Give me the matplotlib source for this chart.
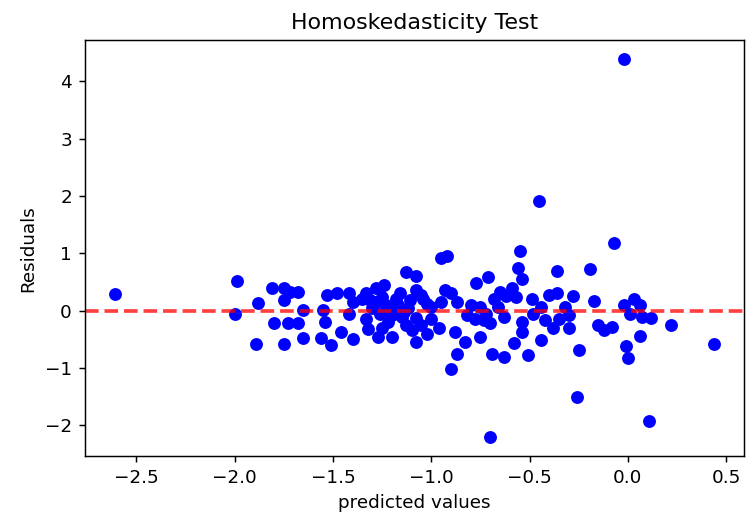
import matplotlib
matplotlib.use("Agg")
import matplotlib.pyplot as plt

title = "Homoskedasticity Test"
xlabel = "predicted values"
ylabel = "Residuals"

predicted = [
    -2.61, -1.99, -2.00, -1.88, -1.89, -1.81, -1.75, -1.75, -1.72, -1.68,
    -1.80, -1.73, -1.68, -1.75, -1.65, -1.65, -1.56, -1.55, -1.54, -1.53,
    -1.48, -1.42, -1.40, -1.42, -1.51, -1.46, -1.40, -1.33, -1.31, -1.33,
    -1.32, -1.28, -1.24, -1.28, -1.25, -1.27, -1.22, -1.21, -1.20, -1.16,
    -1.17, -1.13, -1.08, -1.08, -1.05, -1.11, -1.15, -1.08, -1.10, -1.08,
    -1.05, -1.23, -1.20, -0.95, -0.92, -0.77, -0.71, -1.04, -0.93, -0.90,
    -0.95, -0.87, -1.00, -1.02, -0.96, -0.88, -0.83, -0.87, -0.90, -0.82,
    -0.75, -0.73, -0.70, -0.75, -0.65, -0.66, -0.63, -0.69, -0.63, -0.58,
    -0.55, -0.56, -0.54, -0.36, -0.19, -0.07, -0.59, -0.57, -0.49, -0.40,
    -0.36, -0.28, -0.17, -0.44, -0.32, -0.48, -0.42, -0.35, -0.30, -0.54,
    -0.54, -0.38, -0.30, -0.44, -0.51, -0.25, -0.15, -0.12, -0.02, 0.03,
    0.06, 0.01, 0.07, 0.12, 0.22, -0.08, 0.06, -0.01, 0.00, -0.02,
    -0.45, -0.70, -0.26, 0.11, 0.44,
    -1.30, -1.26, -1.18, -1.14, -1.12, -1.02, -1.00, -1.13, -1.25, -1.35,
    -0.78, -0.68, -0.62, -0.72, -0.80,
]
residuals = [
    0.29, 0.51, -0.05, 0.14, -0.58, 0.39, 0.39, 0.18, 0.33, 0.33,
    -0.21, -0.21, -0.21, -0.58, 0.01, -0.47, -0.47, 0.01, -0.20, 0.27,
    0.31, 0.31, 0.15, -0.06, -0.60, -0.37, -0.50, 0.30, 0.18, -0.14,
    -0.32, 0.39, 0.44, 0.15, 0.24, -0.46, -0.20, 0.01, -0.46, 0.30,
    0.10, 0.68, 0.60, 0.36, 0.27, 0.18, -0.11, -0.13, -0.34, -0.55,
    -0.25, 0.10, -0.08, 0.91, 0.96, 0.48, 0.59, 0.21, 0.36, 0.30,
    0.15, 0.15, 0.07, -0.40, -0.31, -0.37, -0.54, -0.75, -1.02, -0.08,
    0.07, -0.17, -0.22, -0.46, 0.33, 0.07, -0.11, -0.75, -0.80, -0.57,
    1.04, 0.74, 0.56, 0.69, 0.72, 1.18, 0.39, 0.24, 0.21, 0.27,
    0.31, 0.25, 0.17, 0.07, 0.07, -0.05, -0.17, -0.14, -0.08, -0.20,
    -0.37, -0.31, -0.31, -0.51, -0.78, -0.68, -0.25, -0.34, 0.10, 0.20,
    0.10, -0.05, -0.11, -0.13, -0.25, -0.28, -0.44, -0.62, -0.82, 4.38,
    1.91, -2.20, -1.51, -1.93, -0.58,
    0.05, -0.05, 0.20, -0.02, 0.05, 0.12, -0.15, -0.25, -0.30, 0.20,
    -0.15, 0.20, 0.25, -0.05, 0.10,
]

dpi = 132.5
fig = plt.figure(figsize=(746 / dpi, 521 / dpi), dpi=dpi)
ax = fig.add_axes([0.1137, 0.1251, 0.884, 0.7973])
ax.scatter(predicted, residuals, c="b")
ax.axhline(y=0, color="red", linestyle="--", linewidth=2, alpha=0.75)
ax.set_title(title)
ax.set_xlabel(xlabel)
ax.set_ylabel(ylabel)
fig.savefig("out.png", dpi=dpi)
